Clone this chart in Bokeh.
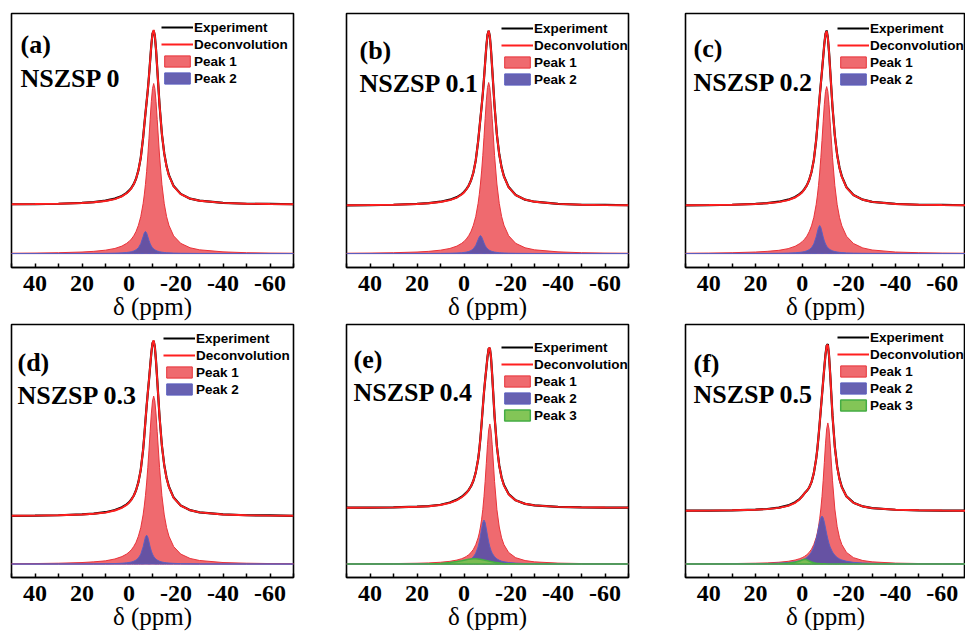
from bokeh.plotting import figure
from bokeh.models import Range1d, FixedTicker, Legend, LegendItem, Label
from bokeh.layouts import row, column
from bokeh.embed import file_html
from bokeh.resources import INLINE
import numpy as np

# ---------------- data ----------------
PPM = [50, 40, 30, 20, 15, 10, 6, 3, 1, 0, -1, -2, -3, -4, -5, -6, -6.5, -7, -7.5, -8, -8.5,
       -9, -9.5, -10, -10.5, -11, -11.5, -12, -13, -14, -15, -16, -17, -19, -22, -26, -30,
       -40, -50, -60, -70]

TICKS = [40, 20, 0, -20, -40, -60]
TICK_LABELS = ["40", "20", "0", "-20", "-40", "-60"]
MINOR_TICKS = [50, 30, 10, -10, -30, -50, -70]

PANEL_TAGS = ["(a)", "(b)", "(c)", "(d)", "(e)", "(f)"]
SAMPLES = ["NSZSP 0", "NSZSP 0.1", "NSZSP 0.2", "NSZSP 0.3", "NSZSP 0.4", "NSZSP 0.5"]
OFFSETS = [0.288, 0.282, 0.282, 0.282, 0.330, 0.312]

PEAK1_A = [0.002, 0.003, 0.005, 0.009, 0.013, 0.020, 0.030, 0.044, 0.060, 0.071, 0.085, 0.104, 0.130,
           0.166, 0.217, 0.293, 0.345, 0.407, 0.483, 0.574, 0.678, 0.789, 0.894, 0.971, 1.000, 0.971,
           0.894, 0.789, 0.574, 0.407, 0.293, 0.217, 0.166, 0.104, 0.060, 0.034, 0.022, 0.010, 0.005,
           0.003, 0.002]
PEAK2_A = [0.0001, 0.0002, 0.0003, 0.0006, 0.0009, 0.0014, 0.0024, 0.0041, 0.0063, 0.0081, 0.0107,
           0.015, 0.022, 0.0345, 0.058, 0.099, 0.121, 0.130, 0.121, 0.099, 0.077, 0.058, 0.044, 0.0345,
           0.027, 0.022, 0.018, 0.015, 0.0107, 0.0081, 0.0063, 0.0050, 0.0041, 0.0029, 0.0018, 0.0012,
           0.0008, 0.0004, 0.0002, 0.0001, 0.0001]
EXP_A = [0.002, 0.003, 0.005, 0.010, 0.015, 0.023, 0.035, 0.051, 0.069, 0.082, 0.098, 0.120, 0.152,
         0.201, 0.275, 0.392, 0.466, 0.537, 0.604, 0.673, 0.755, 0.847, 0.938, 1.006, 1.022, 0.993,
         0.912, 0.804, 0.585, 0.415, 0.301, 0.225, 0.173, 0.109, 0.063, 0.035, 0.023, 0.010, 0.005,
         0.004, 0.002]

PEAK1_B = [0.002, 0.003, 0.005, 0.009, 0.013, 0.020, 0.030, 0.044, 0.060, 0.071, 0.086, 0.105, 0.131,
           0.167, 0.218, 0.295, 0.347, 0.409, 0.486, 0.577, 0.682, 0.794, 0.899, 0.977, 1.006, 0.977,
           0.899, 0.794, 0.577, 0.409, 0.295, 0.218, 0.167, 0.105, 0.060, 0.034, 0.022, 0.010, 0.005,
           0.003, 0.002]
PEAK2_B = [0.0001, 0.0002, 0.0003, 0.0005, 0.0007, 0.0012, 0.0020, 0.0033, 0.0051, 0.0066, 0.0088,
           0.0122, 0.0178, 0.0281, 0.0475, 0.081, 0.098, 0.106, 0.098, 0.081, 0.0625, 0.0475, 0.0361,
           0.0281, 0.0222, 0.0178, 0.0146, 0.0122, 0.0088, 0.0066, 0.0051, 0.0041, 0.0033, 0.0023,
           0.0015, 0.0010, 0.0007, 0.0003, 0.0002, 0.0001, 0.0001]
EXP_B = [0.002, 0.003, 0.005, 0.010, 0.015, 0.023, 0.035, 0.050, 0.068, 0.080, 0.097, 0.118, 0.149,
         0.195, 0.266, 0.376, 0.445, 0.515, 0.584, 0.658, 0.745, 0.842, 0.935, 1.005, 1.028, 0.995,
         0.914, 0.806, 0.586, 0.416, 0.302, 0.225, 0.173, 0.109, 0.063, 0.035, 0.023, 0.010, 0.005,
         0.004, 0.002]

PEAK1_C = [0.002, 0.003, 0.005, 0.009, 0.013, 0.019, 0.029, 0.043, 0.059, 0.070, 0.084, 0.102, 0.128,
           0.163, 0.213, 0.288, 0.339, 0.400, 0.474, 0.564, 0.666, 0.775, 0.878, 0.954, 0.982, 0.954,
           0.878, 0.775, 0.564, 0.400, 0.288, 0.213, 0.163, 0.102, 0.059, 0.033, 0.021, 0.009, 0.005,
           0.003, 0.002]
PEAK2_C = [0.0002, 0.0002, 0.0004, 0.0007, 0.0011, 0.0017, 0.0029, 0.0047, 0.0071, 0.0090, 0.0117,
           0.0160, 0.0228, 0.0345, 0.0563, 0.0974, 0.126, 0.153, 0.165, 0.153, 0.126, 0.0974, 0.0739,
           0.0563, 0.0437, 0.0345, 0.0277, 0.0228, 0.0160, 0.0117, 0.0090, 0.0071, 0.0057, 0.0039,
           0.0025, 0.0016, 0.0011, 0.0005, 0.0003, 0.0002, 0.0001]
EXP_C = [0.002, 0.003, 0.005, 0.010, 0.015, 0.023, 0.035, 0.051, 0.069, 0.081, 0.098, 0.119, 0.151,
         0.198, 0.269, 0.385, 0.465, 0.553, 0.639, 0.717, 0.792, 0.872, 0.952, 1.010, 1.030, 0.989,
         0.906, 0.798, 0.580, 0.412, 0.299, 0.223, 0.172, 0.108, 0.063, 0.035, 0.022, 0.010, 0.005,
         0.004, 0.002]

PEAK1_D = [0.002, 0.003, 0.005, 0.009, 0.013, 0.019, 0.030, 0.044, 0.059, 0.070, 0.084, 0.103, 0.128,
           0.164, 0.214, 0.289, 0.341, 0.402, 0.477, 0.567, 0.670, 0.780, 0.883, 0.959, 0.988, 0.959,
           0.883, 0.780, 0.567, 0.402, 0.289, 0.214, 0.164, 0.103, 0.059, 0.033, 0.021, 0.009, 0.005,
           0.003, 0.002]
PEAK2_D = [0.0002, 0.0002, 0.0004, 0.0007, 0.0011, 0.0018, 0.0030, 0.0049, 0.0073, 0.0093, 0.0121,
           0.0164, 0.0235, 0.0355, 0.058, 0.100, 0.130, 0.158, 0.170, 0.158, 0.130, 0.100, 0.0762,
           0.058, 0.045, 0.0355, 0.0286, 0.0235, 0.0164, 0.0121, 0.0093, 0.0073, 0.0059, 0.0041,
           0.0026, 0.0016, 0.0011, 0.0005, 0.0003, 0.0002, 0.0001]
EXP_D = [0.002, 0.003, 0.005, 0.010, 0.015, 0.023, 0.036, 0.052, 0.069, 0.081, 0.098, 0.120, 0.152,
         0.200, 0.272, 0.389, 0.471, 0.560, 0.647, 0.725, 0.800, 0.880, 0.959, 1.017, 1.030, 0.995,
         0.912, 0.804, 0.583, 0.414, 0.300, 0.224, 0.173, 0.109, 0.063, 0.035, 0.022, 0.010, 0.005,
         0.004, 0.002]

PEAK1_E = [0.0012, 0.0018, 0.0028, 0.0049, 0.0069, 0.0106, 0.0161, 0.0236, 0.0317, 0.0374, 0.0449,
           0.0547, 0.0681, 0.0865, 0.114, 0.154, 0.182, 0.218, 0.264, 0.321, 0.396, 0.486, 0.592, 0.702,
           0.789, 0.824, 0.789, 0.702, 0.486, 0.321, 0.218, 0.154, 0.114, 0.0681, 0.0374, 0.0206,
           0.0129, 0.0056, 0.0031, 0.0020, 0.0014]
PEAK2_E = [0.0003, 0.0004, 0.0007, 0.0013, 0.0019, 0.0030, 0.0048, 0.0076, 0.0110, 0.0136, 0.0172,
           0.0224, 0.0303, 0.0427, 0.0637, 0.101, 0.130, 0.166, 0.207, 0.244, 0.259, 0.244, 0.207, 0.166,
           0.130, 0.101, 0.0798, 0.0637, 0.0427, 0.0303, 0.0224, 0.0172, 0.0136, 0.0091, 0.0056,
           0.0033, 0.0022, 0.0010, 0.0006, 0.0004, 0.0003]
PEAK3_E = [0.0, 0.0, 0.0002, 0.0008, 0.0015, 0.004, 0.009, 0.015, 0.020, 0.023, 0.026, 0.028, 0.030,
           0.031, 0.031, 0.030, 0.029, 0.028, 0.027, 0.026, 0.024, 0.023, 0.021, 0.020, 0.018, 0.017,
           0.015, 0.014, 0.011, 0.009, 0.007, 0.005, 0.004, 0.0025, 0.0012, 0.0005, 0.0002, 0.0, 0.0,
           0.0, 0.0]
EXP_E = [0.0015, 0.0022, 0.0037, 0.0075, 0.011, 0.019, 0.032, 0.049, 0.066, 0.077, 0.090, 0.106,
         0.128, 0.160, 0.209, 0.285, 0.341, 0.412, 0.498, 0.591, 0.679, 0.753, 0.820, 0.888, 0.937,
         0.940, 0.884, 0.780, 0.540, 0.362, 0.250, 0.179, 0.135, 0.082, 0.045, 0.024, 0.015, 0.0066,
         0.0037, 0.0024, 0.0017]

PEAK1_F = [0.0012, 0.0018, 0.0028, 0.0050, 0.0070, 0.0107, 0.0162, 0.0237, 0.0320, 0.0377, 0.0452,
           0.0551, 0.0686, 0.0872, 0.115, 0.155, 0.183, 0.220, 0.266, 0.324, 0.398, 0.490, 0.597, 0.707,
           0.795, 0.830, 0.795, 0.707, 0.490, 0.324, 0.220, 0.155, 0.115, 0.0686, 0.0377, 0.0208,
           0.0130, 0.0056, 0.0032, 0.0020, 0.0014]
PEAK2_F = [0.0006, 0.0008, 0.0013, 0.0023, 0.0034, 0.0055, 0.0088, 0.0137, 0.0197, 0.0241, 0.0302,
           0.0389, 0.0516, 0.0705, 0.100, 0.147, 0.177, 0.212, 0.246, 0.272, 0.282, 0.272, 0.246, 0.212,
           0.177, 0.147, 0.121, 0.100, 0.0705, 0.0516, 0.0389, 0.0302, 0.0241, 0.0163, 0.0101, 0.0061,
           0.0041, 0.0019, 0.0011, 0.0007, 0.0005]
PEAK3_F = [0.0, 0.0, 0.0002, 0.0006, 0.001, 0.002, 0.005, 0.011, 0.018, 0.024, 0.028, 0.025, 0.018,
           0.012, 0.008, 0.005, 0.004, 0.0035, 0.003, 0.0025, 0.002, 0.002, 0.0015, 0.0015, 0.001,
           0.001, 0.001, 0.001, 0.0008, 0.0006, 0.0005, 0.0004, 0.0003, 0.0002, 0.0001, 0.0, 0.0, 0.0,
           0.0, 0.0, 0.0]
EXP_F = [0.0018, 0.0026, 0.0043, 0.0082, 0.012, 0.020, 0.033, 0.052, 0.072, 0.087, 0.104, 0.119,
         0.138, 0.170, 0.223, 0.307, 0.364, 0.436, 0.515, 0.599, 0.682, 0.764, 0.845, 0.921, 0.973,
         0.982, 0.917, 0.808, 0.561, 0.378, 0.262, 0.189, 0.141, 0.086, 0.049, 0.027, 0.017, 0.0075,
         0.0043, 0.0027, 0.0019]

PEAK1 = [PEAK1_A, PEAK1_B, PEAK1_C, PEAK1_D, PEAK1_E, PEAK1_F]
PEAK2 = [PEAK2_A, PEAK2_B, PEAK2_C, PEAK2_D, PEAK2_E, PEAK2_F]
PEAK3 = [None, None, None, None, PEAK3_E, PEAK3_F]
EXPERIMENT = [EXP_A, EXP_B, EXP_C, EXP_D, EXP_E, EXP_F]

# ---------------- styling / geometry ----------------
SERIF = "Liberation Serif"
SANS = "Liberation Sans"
RED_FILL, RED_LINE = "#EF6A6F", "#E8333A"
BLUE_FILL, BLUE_LINE = "#5750A8", "#5B5FC0"
GREEN_FILL, GREEN_LINE = "#7CC24E", "#45AD45"
DECONV = "#FF1F1F"

# per column: width, border left, border right
COLS = [(318, 11, 25), (337, 28, 27), (310, 30, 0)]
# per row: height, border top, border bottom, y-range
ROWS = [(322, 13, 55, (-0.082, 1.412)), (314, 2, 59, (-0.079, 1.409))]
# per panel: tag x offset, tag baseline / sample baseline (from frame top)
TAG_POS = [(9, 31, 65), (13, 37, 70), (8, 35, 69), (6, 38, 71), (7, 35, 68), (8, 39, 70)]
# per panel: legend x (from frame left), centre of first legend row (from frame top)
LEG_POS = [(150, 14), (155, 15), (152, 15), (152, 14), (155, 23), (152, 13)]


def make_panel(i):
    r, c = divmod(i, 3)
    w, bl, br = COLS[c]
    h, bt, bb, yr = ROWS[r]
    frame_h = h - bt - bb
    p = figure(width=w, height=h, output_backend="svg", toolbar_location=None,
               x_range=Range1d(50, -70), y_range=Range1d(*yr),
               y_axis_location=None, min_border_left=bl, min_border_right=br,
               min_border_top=bt, min_border_bottom=bb)
    p.grid.visible = False
    p.outline_line_color = "black"
    p.outline_line_width = 1.6
    p.background_fill_color = "white"
    p.border_fill_color = "white"

    ax = p.xaxis[0]
    ax.ticker = FixedTicker(ticks=TICKS, minor_ticks=MINOR_TICKS)
    ax.major_label_overrides = {float(t): lab for t, lab in zip(TICKS, TICK_LABELS)}
    ax.major_tick_in = 4
    ax.major_tick_out = 0
    ax.minor_tick_in = 4
    ax.minor_tick_out = 0
    ax.axis_line_width = 1.6
    ax.major_tick_line_width = 1.5
    ax.minor_tick_line_width = 1.5
    ax.major_label_text_font = SERIF
    ax.major_label_text_font_style = "bold"
    ax.major_label_text_font_size = "24px"
    ax.major_label_text_color = "black"
    ax.major_label_standoff = 8
    ax.axis_label = "\u03b4 (ppm)"
    ax.axis_label_text_font = SERIF
    ax.axis_label_text_font_style = "normal"
    ax.axis_label_text_font_size = "25px"
    ax.axis_label_text_color = "black"
    ax.axis_label_standoff = -1

    x = np.array(PPM, dtype=float)
    p1 = np.array(PEAK1[i], dtype=float)
    p2 = np.array(PEAK2[i], dtype=float)
    p3 = np.array(PEAK3[i], dtype=float) if PEAK3[i] is not None else np.zeros_like(x)
    off = OFFSETS[i]
    xs_closed = np.concatenate([x, x[::-1]])
    zeros = np.zeros_like(x)

    r1 = p.patch(xs_closed, np.concatenate([p1, zeros]), fill_color=RED_FILL, fill_alpha=1.0,
                 line_color=RED_LINE, line_width=1)
    r2 = p.patch(xs_closed, np.concatenate([p2, zeros]), fill_color=BLUE_FILL, fill_alpha=0.9,
                 line_color=BLUE_LINE, line_width=1)
    r3 = None
    if PEAK3[i] is not None:
        r3 = p.patch(xs_closed, np.concatenate([p3, zeros]), fill_color=GREEN_FILL, fill_alpha=0.95,
                     line_color=GREEN_LINE, line_width=1.5)
    exp_y = off + np.array(EXPERIMENT[i], dtype=float)
    dec_y = off + p1 + p2 + p3
    re = p.line(x, exp_y, line_color="black", line_width=2.2)
    rd = p.line(x, dec_y, line_color=DECONV, line_width=1.9)

    items = [LegendItem(label="Experiment", renderers=[re]),
             LegendItem(label="Deconvolution", renderers=[rd]),
             LegendItem(label="Peak 1", renderers=[r1]),
             LegendItem(label="Peak 2", renderers=[r2])]
    if r3 is not None:
        items.append(LegendItem(label="Peak 3", renderers=[r3]))

    n = len(items)
    row_h, spacing = 15, 2
    leg_h = n * row_h + (n - 1) * spacing
    lx, lc = LEG_POS[i]
    top = lc - row_h / 2
    ly = frame_h - top - leg_h
    legend = Legend(items=items, location=(lx, ly), orientation="vertical",
                    glyph_width=32, glyph_height=14, label_height=14, spacing=spacing,
                    padding=0, margin=0, label_standoff=1,
                    label_text_font=SANS, label_text_font_style="bold",
                    label_text_font_size="13.5px", label_text_color="black",
                    background_fill_alpha=0, border_line_alpha=0)
    p.add_layout(legend, "center")

    tx, tb, sb = TAG_POS[i]
    p.add_layout(Label(x=tx, y=frame_h - tb, x_units="screen", y_units="screen",
                       text=PANEL_TAGS[i], text_font=SERIF, text_font_style="bold",
                       text_font_size="26px", text_color="black", text_baseline="alphabetic"))
    p.add_layout(Label(x=tx, y=frame_h - sb, x_units="screen", y_units="screen",
                       text=SAMPLES[i], text_font=SERIF, text_font_style="bold",
                       text_font_size="26px", text_color="black", text_baseline="alphabetic"))
    return p


panels = [make_panel(i) for i in range(6)]
layout = column(row(*panels[:3]), row(*panels[3:]))

open("out.html", "w").write(file_html(layout, INLINE))
